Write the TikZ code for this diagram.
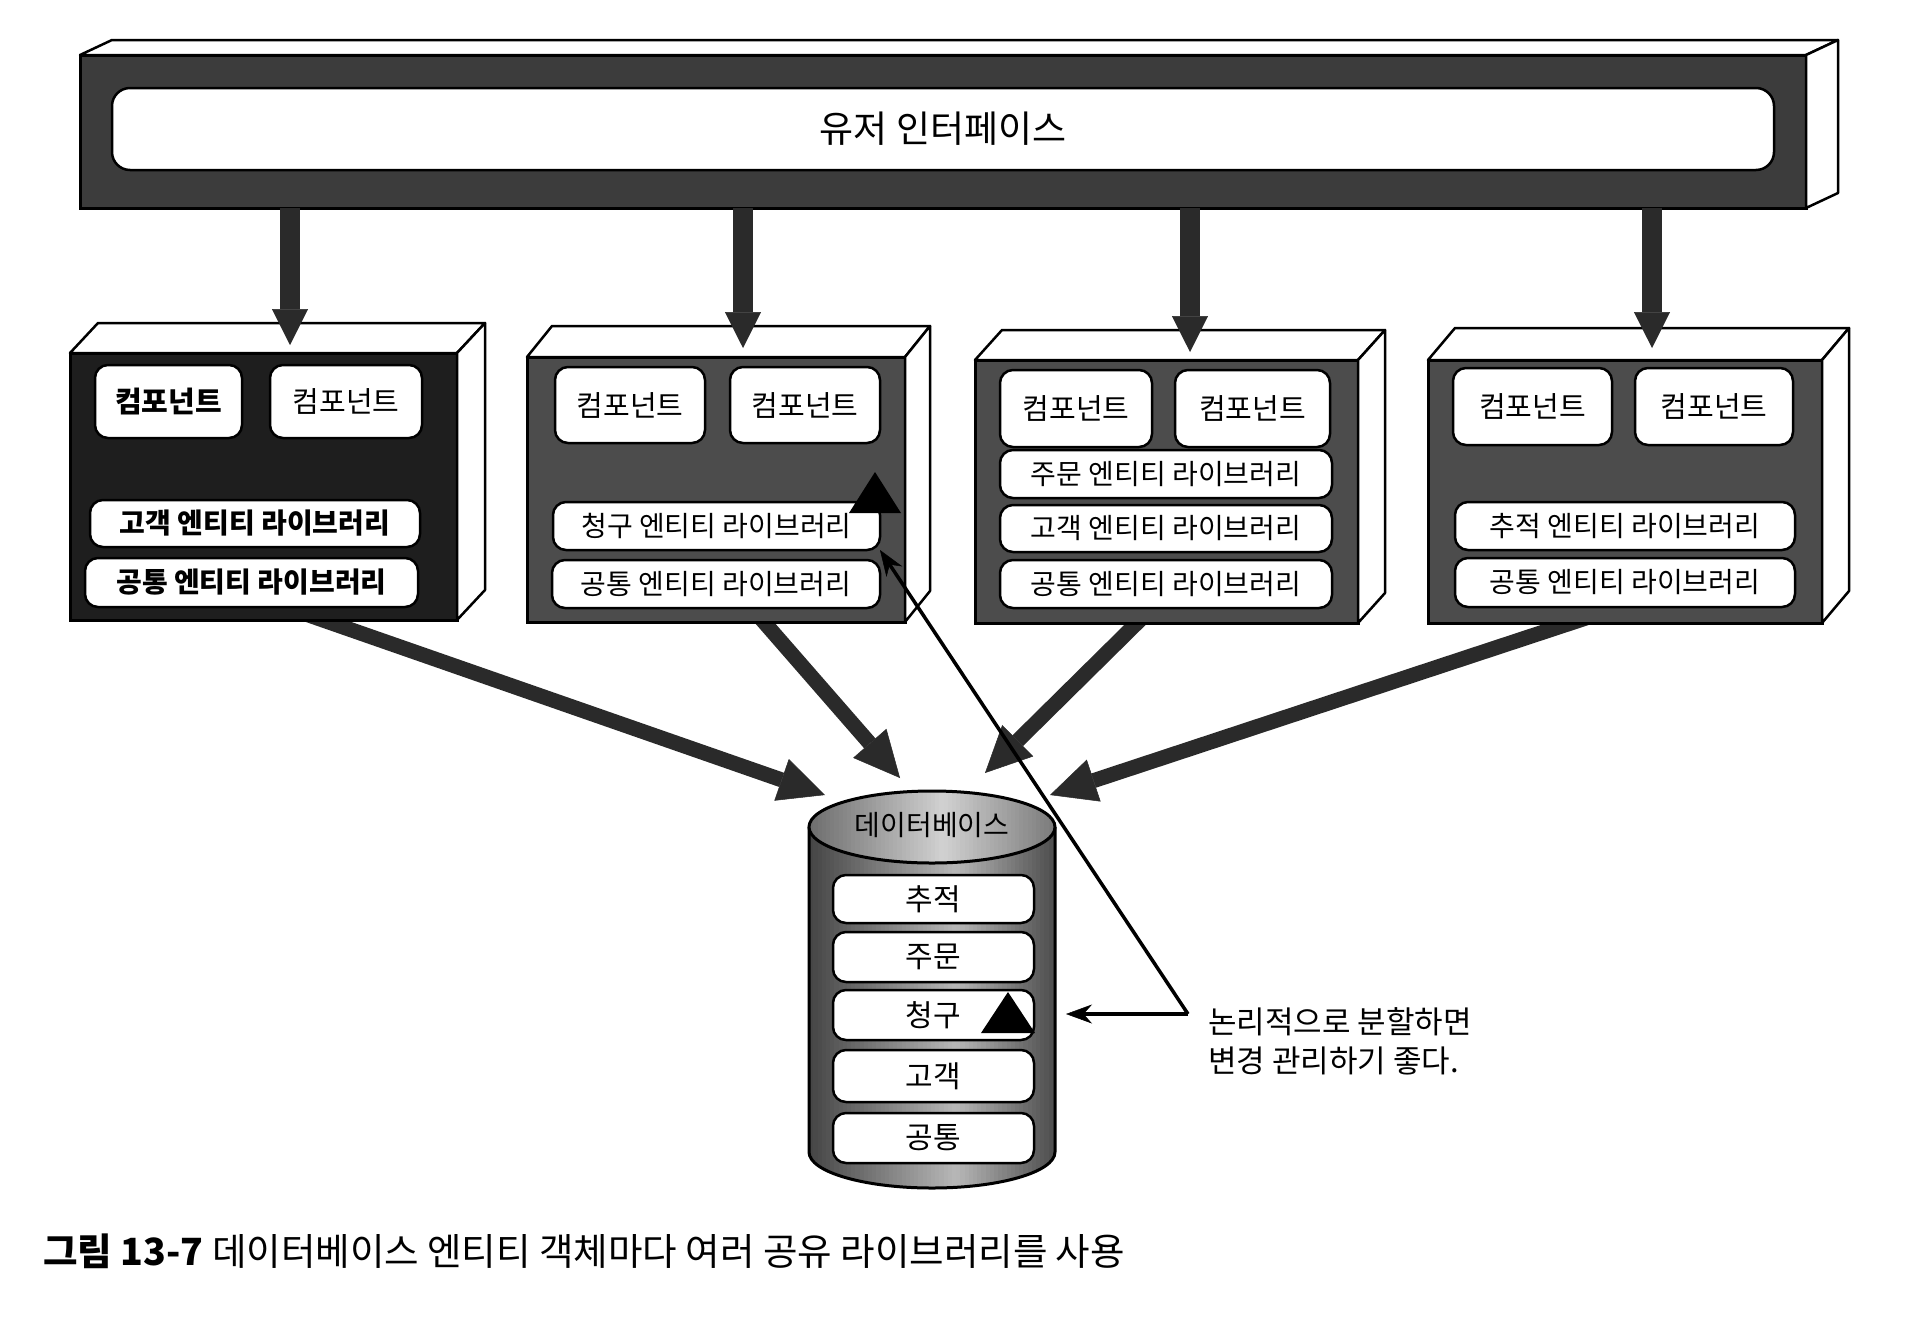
\documentclass[tikz,border=0pt]{standalone}
\usepackage{fontspec}
\setmainfont{Noto Sans CJK KR}
\usetikzlibrary{arrows.meta,calc}
\definecolor{uigray}{HTML}{3C3C3C}
\definecolor{boxdark}{HTML}{1E1E1E}
\definecolor{boxgray}{HTML}{4C4C4C}
\definecolor{arrowgray}{HTML}{2A2A2A}
\newcommand\boxfaces[3]{%
  \draw[face] (#1.north west) -- ++(#2,#3) -- ($(#1.north east)+(#2,#3)$) -- (#1.north east) -- cycle;
  \draw[face] (#1.north east) -- ++(#2,#3) -- ($(#1.south east)+(#2,#3)$) -- (#1.south east) -- cycle;}
\begin{document}
\begin{tikzpicture}[x=1pt,y=-1pt,
  face/.style={draw=black, line width=2.5pt, fill=white, line join=round},
  frontface/.style={draw=black, line width=3pt, inner sep=0pt, outer sep=0pt},
  wbox/.style={draw=black, line width=2.5pt, fill=white, rounded corners=13pt, inner sep=0pt, outer sep=0pt, font=\fontsize{28pt}{32pt}\selectfont},
  compbox/.style={wbox, font=\fontsize{29pt}{34pt}\selectfont},
  rowbox/.style={wbox, minimum width=201pt, font=\fontsize{30pt}{34pt}\selectfont},
  varrow/.style={draw=arrowgray, line width=20pt, -{Triangle[length=36pt,width=36pt,line width=0.5pt]}},
  darrow/.style={draw=arrowgray, line width=15pt, -{Triangle[length=46pt,width=44pt,line width=0.5pt]}},
  notearrow/.style={draw=black, line width=3.5pt, -{Stealth[length=26pt,width=19pt,line width=0.5pt]}},
]
\useasboundingbox (0,0) rectangle (1917,1336);
\fill[white] (0,0) rectangle (1917,1336);

% coordinates for arrow ends
\coordinate (s1) at (300,612);
\coordinate (s2) at (757,614);
\coordinate (s3) at (1145,615);
\coordinate (s4) at (1595,615);
\coordinate (e1) at (825,795);
\coordinate (e2) at (900,778);
\coordinate (e3) at (985,773);
\coordinate (e4) at (1050,795);

% diagonal arrows (behind boxes)
\draw[darrow] (s1) -- (e1);
\draw[darrow] (s2) -- (e2);
\draw[darrow] (s3) -- (e3);
\draw[darrow] (s4) -- (e4);

% user interface bar
\node[frontface, fill=uigray, minimum width=1726pt, minimum height=153pt] (uibar) at (943,131.5) {};
\boxfaces{uibar}{32}{-15}
\node[wbox, rounded corners=18pt, minimum width=1662pt, minimum height=82pt, font=\fontsize{37pt}{42pt}\selectfont] (ui) at (943,129) {유저 인터페이스\hspace{14pt}};

% box 1
\node[frontface, fill=boxdark, minimum width=387pt, minimum height=267pt] (b1) at (263.5,486.5) {};
\boxfaces{b1}{28}{-30}
\node[compbox, minimum width=147pt, minimum height=73pt] (c1a) at (168.5,401.5) {\bfseries 컴포넌트};
\node[compbox, minimum width=152pt, minimum height=73pt] (c1b) at (346,401.5) {컴포넌트};
\node[wbox, minimum width=330pt, minimum height=47pt] (l1a) at (255,523.5) {\bfseries 고객 엔티티 라이브러리};
\node[wbox, minimum width=333pt, minimum height=49pt] (l1b) at (251.5,582.5) {\bfseries 공통 엔티티 라이브러리};

% box 2
\node[frontface, fill=boxgray, minimum width=378pt, minimum height=265pt] (b2) at (716,489.5) {};
\boxfaces{b2}{25}{-31}
\node[compbox, minimum width=150pt, minimum height=76pt] (c2a) at (630,405) {컴포넌트};
\node[compbox, minimum width=150pt, minimum height=76pt] (c2b) at (805,405) {컴포넌트};
\node[wbox, minimum width=327pt, minimum height=48pt] (l2a) at (716.5,526) {청구 엔티티 라이브러리};
\node[wbox, minimum width=328pt, minimum height=48pt] (l2b) at (716,584) {공통 엔티티 라이브러리};

% box 3
\node[frontface, fill=boxgray, minimum width=383pt, minimum height=263pt] (b3) at (1166.5,491.5) {};
\boxfaces{b3}{27}{-30}
\node[compbox, minimum width=152pt, minimum height=77pt] (c3a) at (1076,408.5) {컴포넌트};
\node[compbox, minimum width=155pt, minimum height=77pt] (c3b) at (1252.5,408.5) {컴포넌트};
\node[wbox, minimum width=332pt, minimum height=48pt] (l3a) at (1166,474) {주문 엔티티 라이브러리};
\node[wbox, minimum width=332pt, minimum height=47pt] (l3b) at (1166,528.5) {고객 엔티티 라이브러리};
\node[wbox, minimum width=332pt, minimum height=48pt] (l3c) at (1166,584) {공통 엔티티 라이브러리};

% box 4
\node[frontface, fill=boxgray, minimum width=394pt, minimum height=263pt] (b4) at (1625,491.5) {};
\boxfaces{b4}{27}{-32}
\node[compbox, minimum width=159pt, minimum height=77pt] (c4a) at (1532.5,406.5) {컴포넌트};
\node[compbox, minimum width=158pt, minimum height=77pt] (c4b) at (1714,406.5) {컴포넌트};
\node[wbox, minimum width=340pt, minimum height=48pt] (l4a) at (1625,526) {추적 엔티티 라이브러리};
\node[wbox, minimum width=340pt, minimum height=49pt] (l4b) at (1625,582.5) {공통 엔티티 라이브러리};

% vertical arrows
\coordinate (t1) at (290,345);
\coordinate (t2) at (743,348);
\coordinate (t3) at (1190,352);
\coordinate (t4) at (1652,348);
\draw[varrow] (uibar.south -| t1) -- (t1);
\draw[varrow] (uibar.south -| t2) -- (t2);
\draw[varrow] (uibar.south -| t3) -- (t3);
\draw[varrow] (uibar.south -| t4) -- (t4);

% database cylinder (metallic strips)
\begin{scope}
  \clip (809,827) -- (809,1152) arc[start angle=180, end angle=0, x radius=123, y radius=36]
    -- (1055,827) arc[start angle=0, end angle=180, x radius=123, y radius=36] -- cycle;
  \foreach \i in {0,...,59}{
    \pgfmathsetmacro\tval{\i/59}
    \pgfmathsetmacro\gval{\tval<0.6 ? 74-46*\tval/0.6 : 28+42*(\tval-0.6)/0.4}
    \fill[black!\gval] ({805+\i*4.2},780) rectangle ({805+(\i+1)*4.2+0.8},1200);
  }
\end{scope}
\draw[black, line width=3pt]
  (809,827) -- (809,1152) arc[start angle=180, end angle=0, x radius=123, y radius=36]
  -- (1055,827);
\begin{scope}
  \clip (932,827) ellipse [x radius=123, y radius=36];
  \foreach \i in {0,...,59}{
    \pgfmathsetmacro\tval{\i/59}
    \pgfmathsetmacro\gval{\tval<0.55 ? 58-40*\tval/0.55 : 18+34*(\tval-0.55)/0.45}
    \fill[black!\gval] ({805+\i*4.2},780) rectangle ({805+(\i+1)*4.2+0.8},880);
  }
\end{scope}
\draw[black, line width=3pt] (932,827) ellipse [x radius=123, y radius=36];
\node[font=\fontsize{28pt}{32pt}\selectfont] (dbt) at (932,825) {데이터베이스};
\node[rowbox, minimum height=48pt] (r1) at (933.5,899) {추적};
\node[rowbox, minimum height=50pt] (r2) at (933.5,957) {주문};
\node[rowbox, minimum height=50pt] (r3) at (933.5,1015) {청구};
\node[rowbox, minimum height=52pt] (r4) at (933.5,1076) {고객};
\node[rowbox, minimum height=50pt] (r5) at (933.5,1138) {공통};

% change markers
\fill[black] (875,472) -- (849,513) -- (901,513) -- cycle;
\fill[black] (1008,992) -- (981,1033) -- (1035,1033) -- cycle;

% annotation
\coordinate (nc) at (1188,1014);
\coordinate (na) at (1066,1014);
\draw[notearrow] (nc) -- (na);
\draw[notearrow] (nc) -- (l2a.south east);
\node[anchor=west, align=left, inner sep=0pt, font=\fontsize{31pt}{39pt}\selectfont] (note) at (1208,1041) {논리적으로 분할하면\\변경 관리하기 좋다.};

% caption
\node[anchor=west, inner sep=0pt, font=\fontsize{37.5pt}{42pt}\selectfont] (cap) at (43,1251) {\textbf{그림 13-7} 데이터베이스 엔티티 객체마다 여러 공유 라이브러리를 사용};
\end{tikzpicture}
\end{document}
